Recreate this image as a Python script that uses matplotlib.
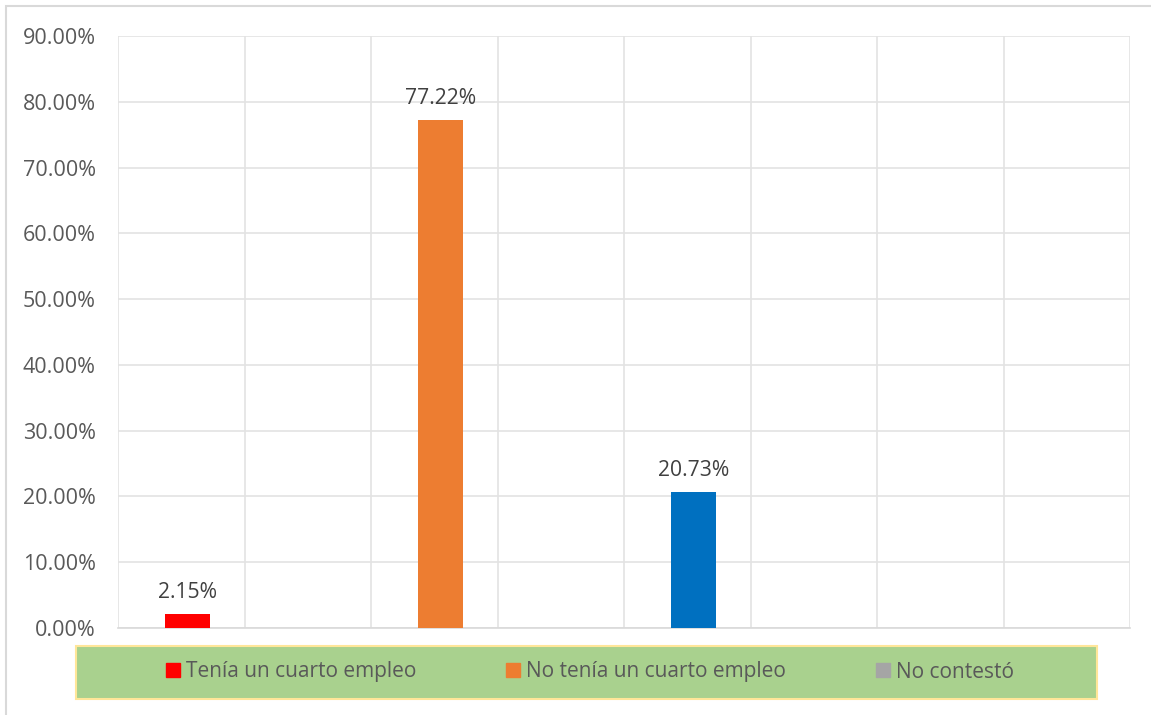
import matplotlib.pyplot as plt
from matplotlib.patches import Rectangle
from matplotlib.ticker import FuncFormatter

plt.rcParams['font.family'] = ['Open Sans', 'DejaVu Sans']

series = ["Tenía un cuarto empleo", "No tenía un cuarto empleo", "No contestó"]
values = [2.15, 77.22, 20.73]
bar_colors = ['#FF0000', '#ED7D31', '#0070C0']
legend_colors = ['#FF0000', '#ED7D31', '#A5A5A5']
positions = [0.553, 2.553, 4.553]
yticks = [0, 10, 20, 30, 40, 50, 60, 70, 80, 90]

fig = plt.figure(figsize=(11.51, 7.15), dpi=100)
ax = fig.add_axes([118/1151, 1-628/715, (1130-118)/1151, (628-36)/715])

ax.bar(positions, values, width=0.356, color=bar_colors, zorder=3)
for x, v in zip(positions, values):
    ax.annotate(f"{v:.2f}%", (x, v), xytext=(0, 8), textcoords='offset points',
                ha='center', va='bottom', fontsize=15.2, color='#404040')

ax.set_xlim(0, 8)
ax.set_ylim(0, 90)
ax.set_yticks(yticks)
ax.yaxis.set_major_formatter(FuncFormatter(lambda v, p: f"{v:.2f}%"))
ax.set_xticks(range(0, 9))
ax.grid(True, color='#E3E3E3', linewidth=1.2, zorder=0)
ax.tick_params(axis='x', length=0, labelbottom=False)
ax.tick_params(axis='y', length=0, labelsize=15.5, labelcolor='#595959', pad=16)
for s in ['top', 'right', 'left']:
    ax.spines[s].set_visible(False)
ax.spines['bottom'].set_color('#D9D9D9')
ax.spines['bottom'].set_linewidth(1.2)

# chart outer border
fig.patches.append(Rectangle((6/1151, -0.1), 1.2, 1-6/715+0.1, transform=fig.transFigure,
                             fill=False, edgecolor='#D9D9D9', linewidth=1.5))
# legend box
fig.patches.append(Rectangle((76/1151, 1-699/715), (1097-76)/1151, 53/715, transform=fig.transFigure,
                             facecolor='#A9D18E', edgecolor='#FFE699', linewidth=1.5))
handles = [Rectangle((0, 0), 1, 1, color=c) for c in legend_colors]
fig.legend(handles, series, loc='center', bbox_to_anchor=(590/1151, 1-672/715), ncol=3,
           frameon=False, fontsize=15, labelcolor='#595959', handlelength=0.67,
           handleheight=0.67, handletextpad=0.29, columnspacing=4.3)

fig.savefig('out.png', dpi=100)
